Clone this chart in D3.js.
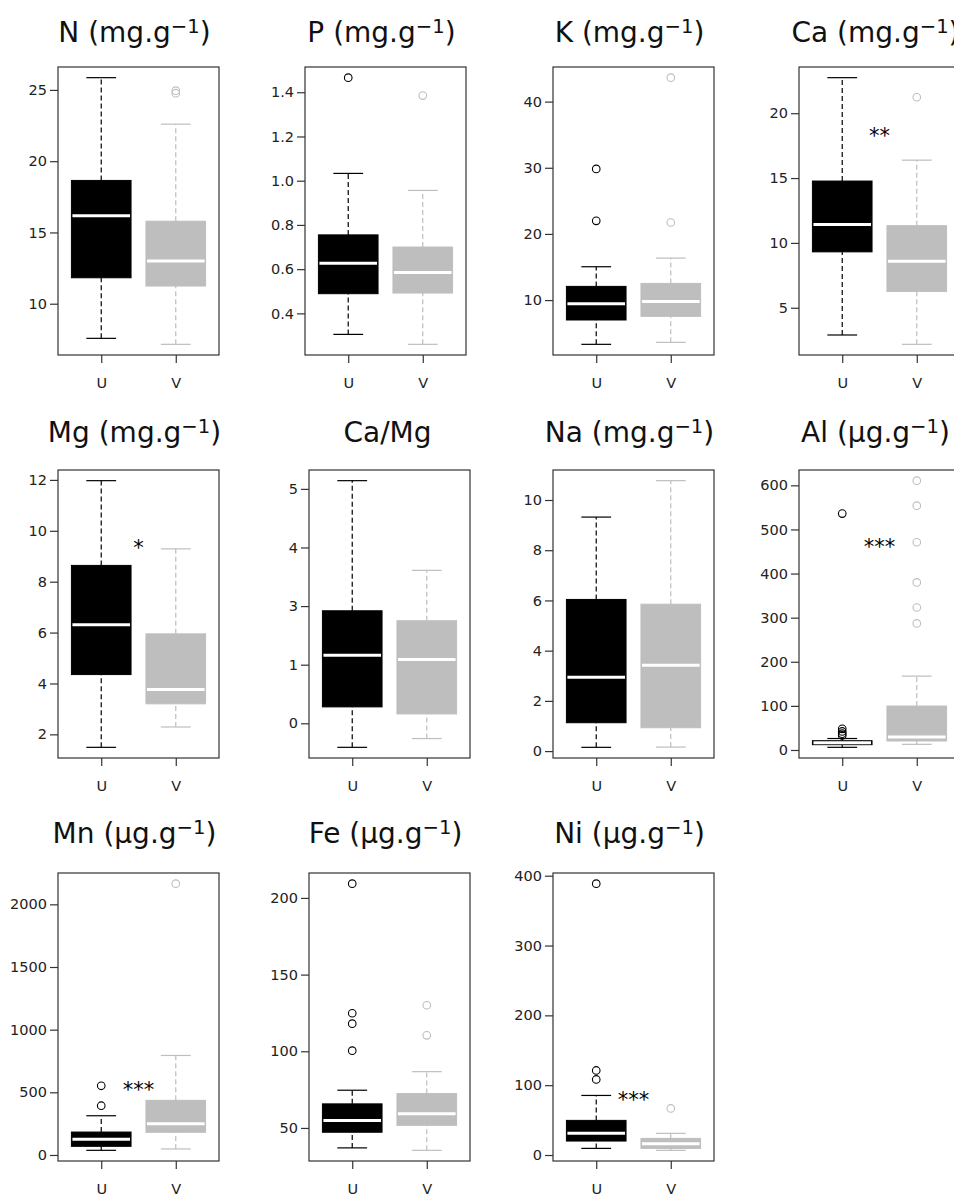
<!DOCTYPE html>
<html>
<head>
<meta charset="utf-8">
<script src="https://cdn.jsdelivr.net/npm/d3@7"></script>
<style>
  body { margin: 0; background: #fff; }
  svg { display: block; font-family: "DejaVu Sans", sans-serif; }
</style>
</head>
<body>
<svg id="chart" width="954" height="1196"></svg>
<script>
// panels, left to right then top to bottom
const names = ['N', 'P', 'K', 'Ca', 'Mg', 'Ca/Mg', 'Na', 'Al', 'Mn', 'Fe', 'Ni'];
const units = ['mg.g', 'mg.g', 'mg.g', 'mg.g', 'mg.g', null, 'mg.g', 'µg.g', 'µg.g', 'µg.g', 'µg.g'];
const groups = ['U', 'V'];

// [lower whisker, Q1, median, Q3, upper whisker]
const statsU = [
  [7.57, 11.82, 16.18, 18.65, 25.86],
  [0.305, 0.489, 0.627, 0.755, 1.033],
  [3.31, 6.99, 9.45, 12.07, 15.04],
  [2.90, 9.31, 11.41, 14.77, 22.74],
  [1.49, 4.35, 6.31, 8.64, 11.97],
  [-0.41, 0.28, 1.16, 1.92, 4.14],
  [0.15, 1.13, 2.94, 6.04, 9.32],
  [6, 12, 16.6, 21, 26],
  [37, 69, 125, 183, 313],
  [37.0, 47.2, 54.8, 65.7, 74.6],
  [9.5, 20.0, 31.0, 49.6, 85.3]
];
const statsV = [
  [7.15, 11.24, 12.99, 15.79, 22.6],
  [0.260, 0.492, 0.585, 0.700, 0.956],
  [3.61, 7.54, 9.80, 12.52, 16.35],
  [2.18, 6.26, 8.59, 11.33, 16.38],
  [2.29, 3.20, 3.76, 5.95, 9.29],
  [-0.26, 0.16, 1.09, 1.75, 2.61],
  [0.16, 0.93, 3.42, 5.85, 10.77],
  [12.8, 20.4, 29.4, 99.6, 167.5],
  [48, 181, 250, 436, 794],
  [35.4, 51.7, 59.3, 72.4, 86.7],
  [6.7, 9.5, 16.2, 23.8, 31.0]
];
const outliersU = [
  [], [1.466], [29.83, 21.98], [], [], [], [],
  [536, 48, 42, 37, 33], [552, 393], [209.3, 124.8, 118.0, 100.4], [388.6, 121.1, 108.2]
];
const outliersV = [
  [24.95, 24.77], [1.385], [43.62, 21.73], [21.23], [], [], [],
  [610.6, 554, 471, 380, 323, 287], [2165], [130.0, 110.4], [66.7]
];

// significance marks, drawn between U and V
const signif = ['', '', '', '**', '*', '', '', '***', '***', '', '***'];
const signifAt = [null, null, null, 18.6, 9.5, null, null, 471, 552, null, 85.3];

const tickValues = [
  [10, 15, 20, 25],
  [0.4, 0.6, 0.8, 1.0, 1.2, 1.4],
  [10, 20, 30, 40],
  [5, 10, 15, 20],
  [2, 4, 6, 8, 10, 12],
  [0, 1, 2, 3, 4],
  [0, 2, 4, 6, 8, 10],
  [0, 100, 200, 300, 400, 500, 600],
  [0, 500, 1000, 1500, 2000],
  [50, 100, 150, 200],
  [0, 100, 200, 300, 400]
];
const tickLabels = [
  ['10', '15', '20', '25'],
  ['0.4', '0.6', '0.8', '1.0', '1.2', '1.4'],
  ['10', '20', '30', '40'],
  ['5', '10', '15', '20'],
  ['2', '4', '6', '8', '10', '12'],
  ['0', '1', '3', '4', '5'],
  ['0', '2', '4', '6', '8', '10'],
  ['0', '100', '200', '300', '400', '500', '600'],
  ['0', '500', '1000', '1500', '2000'],
  ['50', '100', '150', '200'],
  ['0', '100', '200', '300', '400']
];

const svg = d3.select('#chart');
const panelW = 161, panelH = 288;
const rowTop = [67, 470, 873];
const titleY = [42, 442, 843];
const colLeft = [[58, 305, 553, 799], [58, 309, 553, 799], [58, 309, 553, 799]];
const colors = {U: '#000', V: '#bebebe'};

names.forEach((name, i) => {
  const row = Math.floor(i / 4), col = i % 4;
  const left = colLeft[row][col], top = rowTop[row];
  const g = svg.append('g').attr('transform', `translate(${left},${top})`);

  const x = d3.scalePoint().domain(groups).range([0, panelW]).padding(0.58);
  const all = statsU[i].concat(statsV[i], outliersU[i], outliersV[i]);
  const [lo, hi] = d3.extent(all);
  const pad = (hi - lo) * 0.04;
  const y = d3.scaleLinear().domain([lo - pad, hi + pad]).range([panelH, 0]);
  const boxW = x.step() * 0.8;

  const series = [
    {grp: 'U', s: statsU[i], out: outliersU[i]},
    {grp: 'V', s: statsV[i], out: outliersV[i]}
  ];

  series.forEach(d => {
    const cx = x(d.grp), c = colors[d.grp], s = d.s;
    // whiskers
    [[s[0], s[1]], [s[3], s[4]]].forEach(w => {
      g.append('line')
        .attr('x1', cx).attr('x2', cx)
        .attr('y1', y(w[0])).attr('y2', y(w[1]))
        .attr('stroke', c).attr('stroke-width', 1.2)
        .attr('stroke-dasharray', '5,3');
    });
    [s[0], s[4]].forEach(v => {
      g.append('line')
        .attr('x1', cx - boxW / 4).attr('x2', cx + boxW / 4)
        .attr('y1', y(v)).attr('y2', y(v))
        .attr('stroke', c).attr('stroke-width', 1.2);
    });
    g.append('rect')
      .attr('x', cx - boxW / 2).attr('width', boxW)
      .attr('y', y(s[3])).attr('height', y(s[1]) - y(s[3]))
      .attr('fill', c).attr('stroke', c);
    g.append('line')
      .attr('x1', cx - boxW / 2 + 1).attr('x2', cx + boxW / 2 - 1)
      .attr('y1', y(s[2])).attr('y2', y(s[2]))
      .attr('stroke', '#fff').attr('stroke-width', 3);
    d.out.forEach(v => {
      g.append('circle')
        .attr('cx', cx).attr('cy', y(v)).attr('r', 3.8)
        .attr('fill', 'none').attr('stroke', c).attr('stroke-width', 1.1);
    });
  });

  if (signif[i]) {
    g.append('text')
      .attr('x', (x('U') + x('V')) / 2)
      .attr('y', y(signifAt[i]))
      .attr('dy', '0.55em')
      .attr('text-anchor', 'middle')
      .attr('font-size', 21)
      .attr('fill', '#000')
      .text(signif[i]);
  }

  // frame
  g.append('rect')
    .attr('width', panelW).attr('height', panelH)
    .attr('fill', 'none').attr('stroke', '#333').attr('stroke-width', 1.2);

  const yAxis = d3.axisLeft(y)
    .tickValues(tickValues[i])
    .tickFormat((d, k) => tickLabels[i][k])
    .tickSize(8).tickPadding(3);
  const ya = g.append('g').call(yAxis);
  ya.select('.domain').remove();

  const xAxis = d3.axisBottom(x).tickSize(8).tickPadding(15);
  const xa = g.append('g').attr('transform', `translate(0,${panelH})`).call(xAxis);
  xa.select('.domain').remove();

  [ya, xa].forEach(a => {
    a.attr('font-family', '"DejaVu Sans", sans-serif').attr('font-size', 14.5);
    a.selectAll('line').attr('stroke', '#333').attr('stroke-width', 1.2);
    a.selectAll('text').attr('fill', '#222');
  });

  // title
  const t = svg.append('text')
    .attr('x', left + panelW / 2 + (units[i] ? -4 : -2))
    .attr('y', titleY[row])
    .attr('text-anchor', 'middle')
    .attr('font-size', 28)
    .attr('fill', '#111');
  if (units[i]) {
    t.append('tspan').text(`${name} (${units[i]}`);
    t.append('tspan').attr('font-size', 19.6).attr('dy', -9).text('−1');
    t.append('tspan').attr('dy', 9).text(')');
  } else {
    t.text(name);
  }
});
</script>
</body>
</html>
